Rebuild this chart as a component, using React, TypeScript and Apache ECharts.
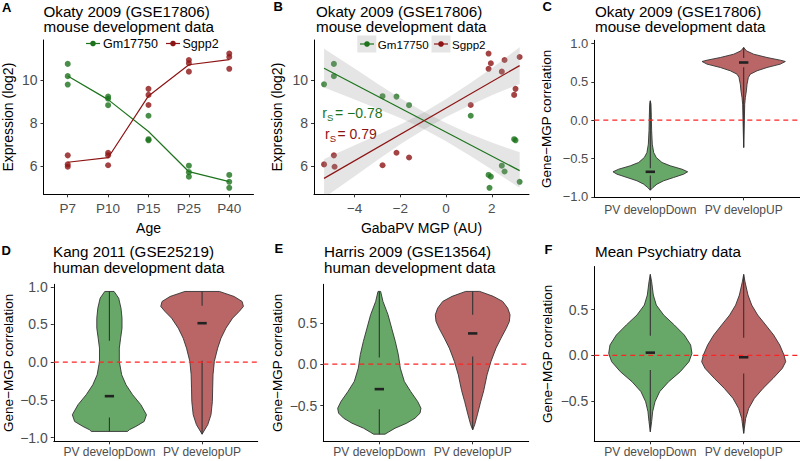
import React, { useEffect, useRef } from "react";
import * as echarts from "echarts";

const FONT = "'Liberation Sans', Arial, Helvetica, sans-serif";
const GREEN = "#1c731c";
const RED = "#8d1414";
const VIOLIN_GREEN = "#67a767";
const VIOLIN_RED = "#bb6666";
const OUTLINE = "#333333";
const LABEL_GREY = "#4d4d4d";

// ---------------- Panel A: expression by age ----------------
const ages = ["P7", "P10", "P15", "P25", "P40"];
const gmByAge = [
  [10.76, 10.19, 9.8],
  [9.24, 9.14, 8.84],
  [8.35, 7.26, 7.21],
  [6.03, 5.73, 5.52],
  [5.6, 5.28, 5.0],
];
const sgByAge = [
  [6.51, 6.09, 5.98],
  [6.63, 6.51, 6.05],
  [9.6, 9.32, 8.85],
  [10.94, 10.79, 10.4],
  [11.24, 11.08, 10.53],
];
const gmAgeMean = [10.2, 9.1, 7.62, 5.75, 5.29];
const sgAgeMean = [6.19, 6.4, 9.27, 10.72, 10.96];
const exprTicks = [6, 8, 10];

// ---------------- Panel B: expression vs MGP ----------------
const gmVsMgp = [
  [-5.34, 9.81], [-4.91, 10.76], [-4.91, 10.19], [-2.78, 9.26], [-2.17, 9.24],
  [-1.62, 8.84], [1.08, 8.35], [1.86, 5.6], [1.96, 5.52], [1.9, 5.0],
  [2.44, 6.03], [2.56, 5.76], [2.98, 7.26], [3.04, 7.21], [3.22, 5.28],
];
const sgVsMgp = [
  [-5.34, 6.09], [-4.91, 6.51], [-4.88, 5.98], [-2.78, 6.05], [-2.17, 6.63],
  [-1.62, 6.41], [1.08, 8.85], [1.86, 11.24], [1.96, 10.79], [1.86, 10.53],
  [2.44, 10.4], [2.56, 10.94], [2.98, 9.32], [3.04, 9.6], [3.22, 11.08],
];
const gmFit = [[-5.34, 10.56], [3.22, 5.8]];
const sgFit = [[-5.34, 5.44], [3.22, 10.68]];
const bandX = [-5.34, -4, -3, -2, -1, 0, 1, 2, 3.22];
const gmBandLow = [9.66, 9.1, 8.68, 8.24, 7.75, 7.17, 6.53, 5.85, 5.0];
const gmBandHigh = [11.46, 10.54, 9.84, 9.16, 8.55, 8.01, 7.53, 7.11, 6.65];
const sgBandLow = [4.54, 5.54, 6.29, 7.02, 7.69, 8.29, 8.82, 9.3, 9.83];
const sgBandHigh = [6.34, 6.98, 7.45, 7.94, 8.49, 9.13, 9.82, 10.56, 11.53];
const mgpTicks = [-4, -2, 0, 2];
const gmRs = "−0.78";
const sgRs = "0.79";

// ---------------- Violin panels ----------------
const violinCats = ["PV developDown", "PV developUP"];
// profiles: [correlation, half width in category units]
const cDown = [[0.252, 0], [0.208, 0.007], [0.035, 0.011], [-0.138, 0.014], [-0.312, 0.021], [-0.421, 0.036], [-0.486, 0.064], [-0.551, 0.125], [-0.594, 0.214], [-0.638, 0.339], [-0.672, 0.4], [-0.703, 0.357], [-0.746, 0.25], [-0.789, 0.143], [-0.833, 0.071], [-0.876, 0.029], [-0.911, 0]];
const cUp = [[0.947, 0], [0.903, 0.029], [0.859, 0.107], [0.816, 0.25], [0.781, 0.393], [0.764, 0.446], [0.73, 0.393], [0.686, 0.25], [0.643, 0.143], [0.599, 0.071], [0.556, 0.05], [0.469, 0.036], [0.382, 0.029], [0.296, 0.018], [0.208, 0.011], [-0.008, 0.007], [-0.356, 0]];
const dDown = [[0.938, 0.05], [0.849, 0.1], [0.716, 0.125], [0.584, 0.136], [0.451, 0.136], [0.318, 0.121], [0.186, 0.107], [0.009, 0.107], [-0.167, 0.132], [-0.3, 0.179], [-0.432, 0.25], [-0.565, 0.339], [-0.698, 0.4], [-0.787, 0.375], [-0.853, 0.286], [-0.897, 0.214], [-0.919, 0.196]];
const dUp = [[0.938, 0.186], [0.871, 0.346], [0.805, 0.432], [0.739, 0.446], [0.672, 0.4], [0.584, 0.329], [0.451, 0.257], [0.318, 0.204], [0.186, 0.168], [0.009, 0.132], [-0.167, 0.118], [-0.345, 0.114], [-0.521, 0.111], [-0.698, 0.096], [-0.83, 0.061], [-0.955, 0]];
const eDown = [[0.88, 0.014], [0.759, 0.039], [0.598, 0.093], [0.436, 0.132], [0.275, 0.171], [0.114, 0.204], [-0.048, 0.225], [-0.209, 0.268], [-0.331, 0.336], [-0.452, 0.411], [-0.533, 0.446], [-0.593, 0.436], [-0.654, 0.382], [-0.714, 0.293], [-0.775, 0.168], [-0.823, 0.096], [-0.847, 0.061]];
const eUp = [[0.88, 0.075], [0.82, 0.221], [0.759, 0.321], [0.678, 0.375], [0.598, 0.4], [0.517, 0.393], [0.436, 0.361], [0.315, 0.304], [0.194, 0.25], [0.033, 0.196], [-0.129, 0.154], [-0.322, 0.118], [-0.452, 0.086], [-0.613, 0.05], [-0.734, 0.021], [-0.794, 0]];
const fDown = [[0.886, 0], [0.806, 0.014], [0.661, 0.032], [0.551, 0.064], [0.442, 0.143], [0.333, 0.257], [0.223, 0.364], [0.114, 0.432], [0.022, 0.446], [-0.069, 0.414], [-0.178, 0.321], [-0.288, 0.196], [-0.397, 0.1], [-0.507, 0.05], [-0.616, 0.025], [-0.725, 0.014], [-0.835, 0]];
const fUp = [[0.886, 0], [0.806, 0.014], [0.661, 0.046], [0.551, 0.086], [0.442, 0.15], [0.333, 0.236], [0.223, 0.321], [0.114, 0.386], [0.004, 0.432], [-0.069, 0.45], [-0.142, 0.414], [-0.252, 0.314], [-0.361, 0.207], [-0.471, 0.114], [-0.58, 0.054], [-0.69, 0.021], [-0.799, 0.007], [-0.853, 0]];
// box stats: [min, q1, median, q3, max]
const cDownBox = [-0.911, -0.72, -0.672, -0.625, 0.252];
const cUpBox = [-0.356, 0.69, 0.751, 0.81, 0.947];
const dDownBox = [-0.919, -0.733, -0.451, 0.284, 0.938];
const dUpBox = [-0.955, 0.02, 0.517, 0.75, 0.938];
const eDownBox = [-0.847, -0.545, -0.302, 0.081, 0.88];
const eUpBox = [-0.794, 0.094, 0.372, 0.598, 0.88];
const fDownBox = [-0.835, -0.16, 0.03, 0.216, 0.886];
const fUpBox = [-0.853, -0.197, -0.02, 0.194, 0.886];
const corrTicksFull = [-1, -0.5, 0, 0.5, 1];
const corrTicksHalf = [-0.5, 0, 0.5];

const minus = (s: string) => s.replace("-", "−");
const fmt1 = (v: number) => minus(v.toFixed(1));
const fmt0 = (v: number) => minus(String(Math.round(v)));

function xAxisDef(grid: number, min: number, max: number, ticks: number[], formatter: any, fontSize: number, margin: number, name?: string) {
  return {
    type: "value", gridIndex: grid, min, max,
    name: name || "", nameLocation: "middle", nameGap: 27,
    nameTextStyle: { color: "#000", fontSize: 14, fontFamily: FONT },
    axisLine: { show: true, onZero: false, lineStyle: { color: "#000", width: 1 } },
    axisTick: { show: true, inside: false, length: 3, customValues: ticks, lineStyle: { color: "#333", width: 1 } },
    axisLabel: { customValues: ticks, formatter, color: LABEL_GREY, fontSize, fontFamily: FONT, margin },
    splitLine: { show: false },
  };
}
function yAxisDef(grid: number, min: number, max: number, ticks: number[], formatter: any, fontSize: number, name: string, nameGap: number, nameSize: number) {
  return {
    type: "value", gridIndex: grid, min, max,
    name, nameLocation: "middle", nameGap, nameRotate: 90,
    nameTextStyle: { color: "#000", fontSize: nameSize, fontFamily: FONT },
    axisLine: { show: true, onZero: false, lineStyle: { color: "#000", width: 1 } },
    axisTick: { show: true, inside: false, length: 3, customValues: ticks, lineStyle: { color: "#333", width: 1 } },
    axisLabel: { customValues: ticks, formatter, color: LABEL_GREY, fontSize, fontFamily: FONT, margin: 6 },
    splitLine: { show: false },
  };
}

function violinSeries(idx: number, profiles: number[][][], boxes: number[][]) {
  const fills = [VIOLIN_GREEN, VIOLIN_RED];
  return {
    type: "custom", xAxisIndex: idx, yAxisIndex: idx, z: 2, silent: true,
    data: boxes.map((b, i) => [i + 1, b[2]]),
    renderItem: (params: any, api: any) => {
      const i = params.dataIndex;
      const cx = i + 1;
      const prof = profiles[i];
      const right = prof.map(([y, hw]) => api.coord([cx + hw, y]));
      const left = prof.slice().reverse().map(([y, hw]) => api.coord([cx - hw, y]));
      const [mn, q1, md, q3, mx] = boxes[i];
      const a = api.coord([cx, mx]), b = api.coord([cx, q3]);
      const c = api.coord([cx, q1]), d = api.coord([cx, mn]);
      const m1 = api.coord([cx - 0.05, md]), m2 = api.coord([cx + 0.05, md]);
      return {
        type: "group",
        children: [
          { type: "polygon", shape: { points: right.concat(left) }, style: { fill: fills[i], stroke: OUTLINE, lineWidth: 0.9, lineJoin: "round" } },
          { type: "line", shape: { x1: a[0], y1: a[1], x2: b[0], y2: b[1] }, style: { stroke: OUTLINE, lineWidth: 1.1 } },
          { type: "line", shape: { x1: c[0], y1: c[1], x2: d[0], y2: d[1] }, style: { stroke: OUTLINE, lineWidth: 1.1 } },
          { type: "line", shape: { x1: m1[0], y1: m1[1], x2: m2[0], y2: m2[1] }, style: { stroke: "#222", lineWidth: 2.6 } },
        ],
      };
    },
  };
}
function zeroLine(idx: number) {
  return {
    type: "line", xAxisIndex: idx, yAxisIndex: idx, z: 5, silent: true, symbol: "none",
    data: [[0.4, 0], [2.6, 0]],
    lineStyle: { color: "#ff2323", width: 1.3, type: [5, 4] },
  };
}

function txt(x: number, y: number, text: string, size: number, opts: any = {}) {
  return {
    type: "text", x, y, silent: true,
    style: {
      text, fill: opts.fill || "#000", fontSize: size, fontFamily: FONT, fontWeight: opts.bold ? "bold" : "normal",
      align: opts.align || "left", verticalAlign: "middle", textAlign: opts.align || "left", textVerticalAlign: "middle",
    },
  };
}

function buildOption() {
  const grids = [
    { left: 43.5, top: 40, width: 210, height: 154.3 },
    { left: 314, top: 40, width: 215, height: 154.3 },
    { left: 594.3, top: 40.3, width: 205.4, height: 157 },
    { left: 52.3, top: 284.3, width: 205.4, height: 157 },
    { left: 323.3, top: 284.3, width: 205.4, height: 157 },
    { left: 594.3, top: 266.5, width: 205.4, height: 174.8 },
  ];
  const catFmt = (v: number) => violinCats[Math.round(v) - 1];
  const xAxes = [
    xAxisDef(0, 0.4, 5.6, [1, 2, 3, 4, 5], (v: number) => ages[Math.round(v) - 1], 13.5, 7, "Age"),
    xAxisDef(1, -5.78, 3.63, mgpTicks, fmt0, 13.5, 7, "GabaPV MGP (AU)"),
    xAxisDef(2, 0.4, 2.6, [1, 2], catFmt, 12, 7),
    xAxisDef(3, 0.4, 2.6, [1, 2], catFmt, 12, 5),
    xAxisDef(4, 0.4, 2.6, [1, 2], catFmt, 12, 5),
    xAxisDef(5, 0.4, 2.6, [1, 2], catFmt, 12, 5),
  ];
  const yName = "Gene−MGP correlation";
  const yAxes = [
    yAxisDef(0, 4.7, 11.87, exprTicks, fmt0, 14, "Expression (log2)", 28.5, 14),
    yAxisDef(1, 4.7, 11.87, exprTicks, fmt0, 14, "Expression (log2)", 30.3, 14),
    yAxisDef(2, -1.004, 1.04, corrTicksFull, fmt1, 13, yName, 40.8, 13.5),
    yAxisDef(3, -1.05, 1.033, corrTicksFull, fmt1, 14, yName, 38.8, 13.5),
    yAxisDef(4, -0.933, 0.966, corrTicksHalf, fmt1, 14, yName, 38.5, 13.5),
    yAxisDef(5, -0.94, 0.973, corrTicksHalf, fmt1, 14, yName, 39.5, 13.5),
  ];

  const agePoints = (arr: number[][]) => arr.flatMap((vals, i) => vals.map((v) => [i + 1, v]));
  const series: any[] = [
    // Panel A
    { type: "scatter", xAxisIndex: 0, yAxisIndex: 0, silent: true, symbolSize: 6, itemStyle: { color: GREEN }, data: agePoints(gmByAge), z: 3 },
    { type: "scatter", xAxisIndex: 0, yAxisIndex: 0, silent: true, symbolSize: 6, itemStyle: { color: RED }, data: agePoints(sgByAge), z: 3 },
    { type: "line", xAxisIndex: 0, yAxisIndex: 0, silent: true, symbol: "none", lineStyle: { color: GREEN, width: 1.2 }, data: gmAgeMean.map((v, i) => [i + 1, v]), z: 2 },
    { type: "line", xAxisIndex: 0, yAxisIndex: 0, silent: true, symbol: "none", lineStyle: { color: RED, width: 1.2 }, data: sgAgeMean.map((v, i) => [i + 1, v]), z: 2 },
    // Panel B
    { type: "scatter", xAxisIndex: 1, yAxisIndex: 1, silent: true, symbolSize: 6, itemStyle: { color: GREEN }, data: gmVsMgp, z: 2 },
    { type: "scatter", xAxisIndex: 1, yAxisIndex: 1, silent: true, symbolSize: 6, itemStyle: { color: RED }, data: sgVsMgp, z: 2 },
    {
      type: "custom", xAxisIndex: 1, yAxisIndex: 1, silent: true, z: 3, clip: true,
      data: [gmFit[0], sgFit[0]],
      renderItem: (params: any, api: any) => {
        const low = params.dataIndex === 0 ? gmBandLow : sgBandLow;
        const high = params.dataIndex === 0 ? gmBandHigh : sgBandHigh;
        const up = bandX.map((x, k) => api.coord([x, high[k]]));
        const dn = bandX.slice().reverse().map((x, k) => api.coord([x, low[bandX.length - 1 - k]]));
        return { type: "polygon", shape: { points: up.concat(dn) }, style: { fill: "rgba(153,153,153,0.25)" } };
      },
    },
    { type: "line", xAxisIndex: 1, yAxisIndex: 1, silent: true, symbol: "none", lineStyle: { color: GREEN, width: 1.2 }, data: gmFit, z: 4 },
    { type: "line", xAxisIndex: 1, yAxisIndex: 1, silent: true, symbol: "none", lineStyle: { color: RED, width: 1.2 }, data: sgFit, z: 4 },
    // Violins
    violinSeries(2, [cDown, cUp], [cDownBox, cUpBox]), zeroLine(2),
    violinSeries(3, [dDown, dUp], [dDownBox, dUpBox]), zeroLine(3),
    violinSeries(4, [eDown, eUp], [eDownBox, eUpBox]), zeroLine(4),
    violinSeries(5, [fDown, fUp], [fDownBox, fUpBox]), zeroLine(5),
  ];

  const T = 15.2;
  const okaty1 = "Okaty 2009 (GSE17806)";
  const mouse2 = "mouse development data";
  const human2 = "human development data";
  const r1 = 11.1, r2 = 26.7;
  const s1 = 251.9, s2 = 267.5;
  const graphic: any[] = [
    // panel letters
    txt(2, 7.5, "A", 13, { bold: true }),
    txt(273.5, 6, "B", 13, { bold: true }),
    txt(542.5, 6, "C", 13, { bold: true }),
    txt(1.5, 250.5, "D", 13, { bold: true }),
    txt(274.5, 248.5, "E", 13, { bold: true }),
    txt(544.5, 249.2, "F", 13, { bold: true }),
    // titles
    txt(43.5, r1, okaty1, T), txt(43.5, r2, mouse2, T),
    txt(316, r1, okaty1, T), txt(316, r2, mouse2, T),
    txt(595, r1, okaty1, T), txt(595, r2, mouse2, T),
    txt(53, s1, "Kang 2011 (GSE25219)", T), txt(53, s2, human2, T),
    txt(324, s1, "Harris 2009 (GSE13564)", T), txt(324, s2, human2, T),
    txt(595, 251.7, "Mean Psychiatry data", T),
    // legend A
    { type: "line", silent: true, shape: { x1: 86, y1: 43.5, x2: 100, y2: 43.5 }, style: { stroke: GREEN, lineWidth: 1.2 } },
    { type: "circle", silent: true, shape: { cx: 93, cy: 43.5, r: 2.8 }, style: { fill: GREEN } },
    txt(103, 43.5, "Gm17750", 12.5),
    { type: "line", silent: true, shape: { x1: 166, y1: 43.5, x2: 180, y2: 43.5 }, style: { stroke: RED, lineWidth: 1.2 } },
    { type: "circle", silent: true, shape: { cx: 173, cy: 43.5, r: 2.8 }, style: { fill: RED } },
    txt(182.5, 43.5, "Sgpp2", 12.5),
    // legend B
    { type: "rect", silent: true, shape: { x: 357.3, y: 35.5, width: 19, height: 17 }, style: { fill: "#e5e5e5" } },
    { type: "line", silent: true, shape: { x1: 360, y1: 44, x2: 374, y2: 44 }, style: { stroke: GREEN, lineWidth: 1.2 } },
    { type: "circle", silent: true, shape: { cx: 367, cy: 44, r: 2.8 }, style: { fill: GREEN } },
    txt(377.8, 44, "Gm17750", 11.6),
    { type: "rect", silent: true, shape: { x: 431.5, y: 35.5, width: 19, height: 17 }, style: { fill: "#e5e5e5" } },
    { type: "line", silent: true, shape: { x1: 434, y1: 44, x2: 448, y2: 44 }, style: { stroke: RED, lineWidth: 1.2 } },
    { type: "circle", silent: true, shape: { cx: 441, cy: 44, r: 2.8 }, style: { fill: RED } },
    txt(452, 44, "Sgpp2", 11.6),
    // correlation annotations
    txt(322.3, 113.3, "r", 14, { fill: GREEN }),
    txt(327, 117.3, "S", 9.5, { fill: GREEN }),
    txt(335, 113.3, "= " + gmRs, 14, { fill: GREEN }),
    txt(325, 134.3, "r", 14, { fill: RED }),
    txt(329.7, 138.3, "S", 9.5, { fill: RED }),
    txt(337.5, 134.3, "= " + sgRs, 14, { fill: RED }),
  ];

  return {
    animation: false,
    backgroundColor: "#ffffff",
    textStyle: { fontFamily: FONT },
    grid: grids,
    xAxis: xAxes,
    yAxis: yAxes,
    series,
    graphic,
  };
}

export default function App() {
  const ref = useRef<HTMLDivElement>(null);
  useEffect(() => {
    document.body.style.margin = "0";
    const chart = echarts.init(ref.current as HTMLDivElement, null, { renderer: "svg" });
    chart.setOption(buildOption() as any);
    return () => chart.dispose();
  }, []);
  return <div ref={ref} style={{ width: 800, height: 461 }} />;
}
